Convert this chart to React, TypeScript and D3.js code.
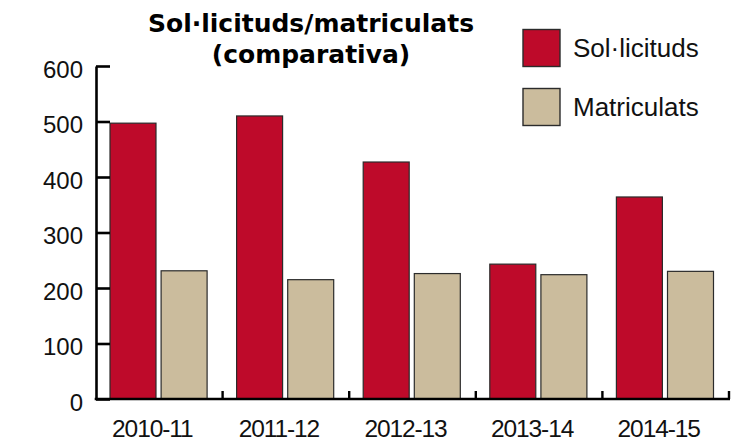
import { useEffect, useRef } from "react";
import * as d3 from "d3";

const categories = ["2010-11", "2011-12", "2012-13", "2013-14", "2014-15"];
const series = ["Sol·licituds", "Matriculats"];
const solicituds = [497, 510, 427, 243, 364];
const matriculats = [231, 215, 226, 224, 230];
const yTicks = [0, 100, 200, 300, 400, 500, 600];

const colors = ["#be0a2a", "#cbbc9d"];

export default function App() {
  const svgRef = useRef<SVGSVGElement>(null);

  useEffect(() => {
    if (!svgRef.current) return;
    const svg = d3.select(svgRef.current);
    svg.selectAll("*").remove();

    const width = 749;
    const height = 442;
    const left = 96;
    const right = 729;
    const top = 66;
    const bottom = 399;

    const x = d3.scaleBand().domain(categories).range([left, right]).padding(0);
    const inner = d3
      .scaleBand()
      .domain(series)
      .range([14, x.bandwidth() - 15.5])
      .paddingInner(0.1);
    const y = d3.scaleLinear().domain([0, 600]).range([bottom, top]);

    svg.attr("width", width).attr("height", height).attr("viewBox", `0 0 ${width} ${height}`);

    const rows = categories.map((c, i) => ({ c, values: [solicituds[i], matriculats[i]] }));

    // bars
    const groups = svg
      .append("g")
      .selectAll("g")
      .data(rows)
      .enter()
      .append("g")
      .attr("transform", (d) => `translate(${x(d.c)},0)`);

    groups
      .selectAll("rect")
      .data((d) => d.values.map((v, j) => ({ s: series[j], v, j })))
      .enter()
      .append("rect")
      .attr("x", (d) => inner(d.s) || 0)
      .attr("y", (d) => y(d.v))
      .attr("width", inner.bandwidth())
      .attr("height", (d) => y(0) - y(d.v))
      .attr("fill", (d) => colors[d.j])
      .attr("stroke", "#2b2b2b")
      .attr("stroke-width", 1.2);

    // y axis, ticks pointing inward
    const yAxis = d3
      .axisLeft(y)
      .tickValues(yTicks)
      .tickSizeInner(-14)
      .tickSizeOuter(0)
      .tickPadding(13)
      .tickFormat(d3.format("d"));

    const gy = svg.append("g").attr("transform", `translate(${left},0)`).call(yAxis);
    gy.select(".domain").attr("stroke", "#000").attr("stroke-width", 2.6);
    gy.selectAll(".tick line").attr("stroke", "#000").attr("stroke-width", 2.6);
    gy.selectAll(".tick text")
      .attr("font-family", "'Liberation Sans', Arial, sans-serif")
      .attr("font-size", 24)
      .attr("fill", "#111")
      .attr("dy", null)
      .attr("y", 11);

    // x axis line with category separators
    const gx = svg.append("g");
    gx.append("line")
      .attr("x1", left - 1.3)
      .attr("x2", right + 1)
      .attr("y1", y(0))
      .attr("y2", y(0))
      .attr("stroke", "#000")
      .attr("stroke-width", 2.6);

    gx.selectAll(".sep")
      .data(categories)
      .enter()
      .append("line")
      .attr("x1", (d) => (x(d) || 0) + x.bandwidth())
      .attr("x2", (d) => (x(d) || 0) + x.bandwidth())
      .attr("y1", y(0))
      .attr("y2", y(0) - 8)
      .attr("stroke", "#000")
      .attr("stroke-width", 2.4);

    gx.selectAll(".lbl")
      .data(categories)
      .enter()
      .append("text")
      .attr("x", (d) => (x(d) || 0) + x.bandwidth() / 2 - 7)
      .attr("y", 437)
      .attr("text-anchor", "middle")
      .attr("font-family", "'Liberation Sans', Arial, sans-serif")
      .attr("font-size", 24.5)
      .attr("letter-spacing", -1.1)
      .attr("fill", "#111")
      .text((d) => d);

    // title
    const title = svg
      .append("text")
      .attr("text-anchor", "middle")
      .attr("font-family", "'DejaVu Sans', sans-serif")
      .attr("font-weight", "bold")
      .attr("font-size", 25)
      .attr("fill", "#000");
    title.append("tspan").attr("x", 311).attr("y", 32).text("Sol·licituds/matriculats");
    title.append("tspan").attr("x", 311).attr("y", 63).text("(comparativa)");

    // legend
    const legend = svg
      .append("g")
      .selectAll("g")
      .data(series)
      .enter()
      .append("g")
      .attr("transform", (_, i) => `translate(523,${29.5 + i * 59})`);

    legend
      .append("rect")
      .attr("width", 37)
      .attr("height", 37)
      .attr("fill", (_, i) => colors[i])
      .attr("stroke", "#2b2b2b")
      .attr("stroke-width", 1.4);

    legend
      .append("text")
      .attr("x", 50)
      .attr("y", 27)
      .attr("font-family", "'Liberation Sans', Arial, sans-serif")
      .attr("font-size", 26)
      .attr("fill", "#111")
      .text((d) => d);
  }, []);

  return (
    <div style={{ position: "absolute", left: 0, top: 0 }}>
      <svg ref={svgRef} style={{ display: "block" }} />
    </div>
  );
}
